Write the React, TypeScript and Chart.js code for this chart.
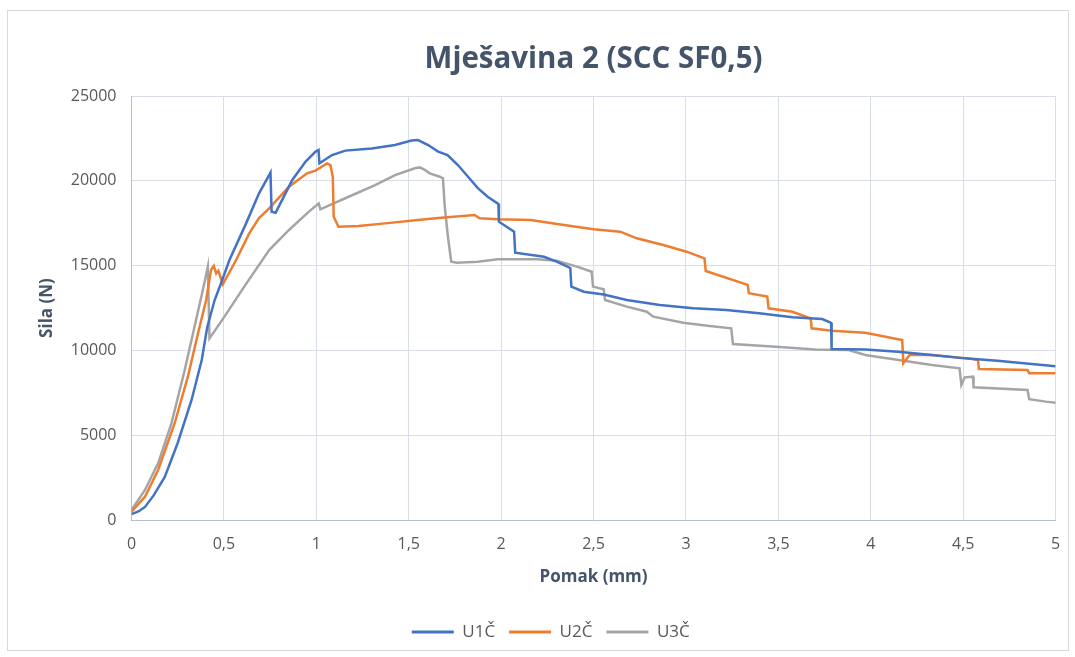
import React, { useEffect, useRef } from "react";
import { Chart, registerables } from "chart.js";

Chart.register(...registerables);

const chartTitle = "Mješavina 2 (SCC SF0,5)";
const xAxisTitle = "Pomak (mm)";
const yAxisTitle = "Sila (N)";
const seriesNames = ["U1Č", "U2Č", "U3Č"];
const seriesColors = ["#4472C4", "#ED7D31", "#A5A5A5"];

const u1X = [0, 0.04, 0.073, 0.12, 0.18, 0.25, 0.325, 0.38, 0.41, 0.45, 0.485, 0.53, 0.62, 0.69, 0.752, 0.758, 0.78, 0.87, 0.942, 0.996, 1.012, 1.017, 1.085, 1.157, 1.3, 1.426, 1.515, 1.55, 1.605, 1.659, 1.71, 1.766, 1.836, 1.874, 1.927, 1.985, 1.988, 2.07, 2.076, 2.232, 2.3, 2.374, 2.38, 2.447, 2.555, 2.68, 2.858, 3.04, 3.218, 3.396, 3.576, 3.737, 3.785, 3.788, 3.97, 4.148, 4.33, 4.508, 4.685, 5.0];
const u1Y = [350, 520, 770, 1450, 2535, 4540, 7075, 9430, 11380, 12970, 13970, 15330, 17490, 19260, 20480, 18180, 18120, 20050, 21130, 21720, 21810, 21030, 21520, 21780, 21910, 22110, 22370, 22400, 22110, 21720, 21520, 20930, 20050, 19570, 19060, 18630, 17590, 17000, 15760, 15520, 15230, 14860, 13760, 13460, 13300, 12970, 12680, 12480, 12380, 12190, 11950, 11850, 11630, 10080, 10060, 9920, 9730, 9530, 9390, 9060];

const u2X = [0, 0.073, 0.144, 0.234, 0.305, 0.36, 0.404, 0.43, 0.445, 0.458, 0.47, 0.494, 0.566, 0.637, 0.69, 0.745, 0.852, 0.95, 0.995, 1.058, 1.076, 1.089, 1.094, 1.12, 1.228, 1.372, 1.55, 1.66, 1.856, 1.883, 1.98, 2.16, 2.34, 2.5, 2.644, 2.734, 2.877, 3.003, 3.1, 3.107, 3.334, 3.34, 3.44, 3.447, 3.576, 3.675, 3.68, 3.79, 3.97, 4.17, 4.176, 4.21, 4.33, 4.526, 4.58, 4.585, 4.848, 4.857, 5.0];
const u2Y = [490, 1375, 2950, 5720, 8450, 11010, 12970, 14740, 14980, 14540, 14700, 13900, 15330, 16900, 17800, 18380, 19650, 20440, 20600, 21030, 20930, 20240, 17880, 17290, 17330, 17490, 17690, 17800, 17980, 17790, 17730, 17690, 17390, 17140, 17000, 16610, 16210, 15820, 15430, 14680, 13860, 13370, 13170, 12480, 12280, 11890, 11300, 11160, 11040, 10610, 9240, 9730, 9730, 9530, 9430, 8900, 8840, 8650, 8650];

const u3X = [0, 0.073, 0.144, 0.216, 0.288, 0.341, 0.386, 0.413, 0.422, 0.503, 0.61, 0.745, 0.852, 0.96, 1.013, 1.022, 1.085, 1.175, 1.318, 1.426, 1.533, 1.56, 1.587, 1.614, 1.668, 1.685, 1.695, 1.712, 1.73, 1.76, 1.874, 1.98, 2.196, 2.3, 2.41, 2.49, 2.497, 2.555, 2.562, 2.68, 2.788, 2.823, 2.985, 3.128, 3.245, 3.254, 3.487, 3.7, 3.88, 3.97, 4.15, 4.33, 4.48, 4.49, 4.508, 4.553, 4.556, 4.848, 4.857, 4.947, 5.0];
const u3Y = [590, 1770, 3340, 5700, 8840, 11400, 13560, 14940, 10710, 11990, 13760, 15920, 17100, 18180, 18670, 18320, 18630, 19060, 19750, 20340, 20740, 20790, 20640, 20440, 20240, 20150, 18470, 16700, 15230, 15170, 15230, 15370, 15370, 15290, 14940, 14640, 13760, 13600, 12970, 12580, 12280, 11990, 11630, 11440, 11300, 10380, 10220, 10060, 10020, 9730, 9430, 9140, 8940, 7960, 8410, 8450, 7820, 7670, 7120, 6980, 6920];

const seriesX = [u1X, u2X, u3X];
const seriesY = [u1Y, u2Y, u3Y];

const FONT = "'Open Sans', 'DejaVu Sans', sans-serif";

const framePlugin = {
  id: "frame",
  afterLayout(chart: any) {
    const area = chart.chartArea;
    if (chart.titleBlock) {
      chart.titleBlock.left = area.left;
      chart.titleBlock.right = area.right;
    }
    if (chart.legend) {
      chart.legend.left += 15;
      chart.legend.right += 15;
    }
  },
  beforeDraw(chart: any) {
    const { ctx, width, height } = chart;
    ctx.save();
    ctx.fillStyle = "#ffffff";
    ctx.fillRect(0, 0, width, height);
    ctx.strokeStyle = "#d9d9d9";
    ctx.lineWidth = 1;
    ctx.strokeRect(7.5, 10.5, 1061, 640);
    ctx.restore();
  },
};

export default function App() {
  const ref = useRef<HTMLCanvasElement | null>(null);

  useEffect(() => {
    if (!ref.current) return;
    const datasets = seriesNames.map((name, i) => ({
      label: name,
      data: seriesX[i].map((x, j) => ({ x, y: seriesY[i][j] })),
      borderColor: seriesColors[i],
      backgroundColor: seriesColors[i],
      borderWidth: 2.5,
      pointRadius: 0,
      tension: 0,
      fill: false,
    }));

    const chart = new Chart(ref.current, {
      type: "line",
      data: { datasets },
      plugins: [framePlugin],
      options: {
        animation: false,
        responsive: false,
        devicePixelRatio: 1,
        layout: { padding: { left: 10, right: 13.5, top: 0, bottom: 6.5 } },
        plugins: {
          title: {
            display: true,
            text: chartTitle,
            color: "#44546A",
            font: { family: FONT, size: 29.5, weight: "bold", lineHeight: 1.2 },
            padding: { top: 42.3, bottom: 18.3 },
          },
          legend: {
            position: "bottom",
            labels: {
              boxWidth: 42,
              boxHeight: 3,
              padding: 14,
              color: "#595959",
              font: { family: FONT, size: 17 },
              generateLabels: (c: any) =>
                Chart.defaults.plugins.legend.labels
                  .generateLabels(c)
                  .map((l: any) => ({ ...l, lineWidth: 0, fillStyle: l.strokeStyle })),
            },
          },
          tooltip: { enabled: false },
        },
        scales: {
          x: {
            type: "linear",
            min: 0,
            max: 5,
            afterFit: (s: any) => {
              s.height = 89.5;
            },
            ticks: {
              stepSize: 0.5,
              padding: 14.8,
              color: "#595959",
              font: { family: FONT, size: 16 },
              callback: (v: any) => String(v).replace(".", ","),
            },
            grid: { color: "#d9dee6", drawTicks: false, lineWidth: 1 },
            border: { color: "#b4bfd0", width: 1 },
            title: {
              display: true,
              text: xAxisTitle,
              color: "#44546A",
              font: { family: FONT, size: 17, weight: "bold", lineHeight: 1.2 },
              padding: { top: 0, bottom: 22.3 },
            },
          },
          y: {
            type: "linear",
            min: 0,
            max: 25000,
            afterFit: (s: any) => {
              s.width = 121.5;
            },
            ticks: {
              stepSize: 5000,
              padding: 15,
              color: "#595959",
              font: { family: FONT, size: 16 },
              callback: (v: any) => String(v),
            },
            grid: { color: "#d9dee6", drawTicks: false, lineWidth: 1 },
            border: { color: "#b4bfd0", width: 1 },
            title: {
              display: true,
              text: yAxisTitle,
              color: "#44546A",
              font: { family: FONT, size: 17, weight: "bold", lineHeight: 1.2 },
              padding: { top: 26.8, bottom: 0 },
            },
          },
        },
      },
    } as any);
    return () => chart.destroy();
  }, []);

  return (
    <div style={{ position: "fixed", left: 0, top: 0, width: 1075, height: 657, background: "#fff" }}>
      <canvas ref={ref} width={1075} height={657} style={{ display: "block", width: 1075, height: 657 }} />
    </div>
  );
}
